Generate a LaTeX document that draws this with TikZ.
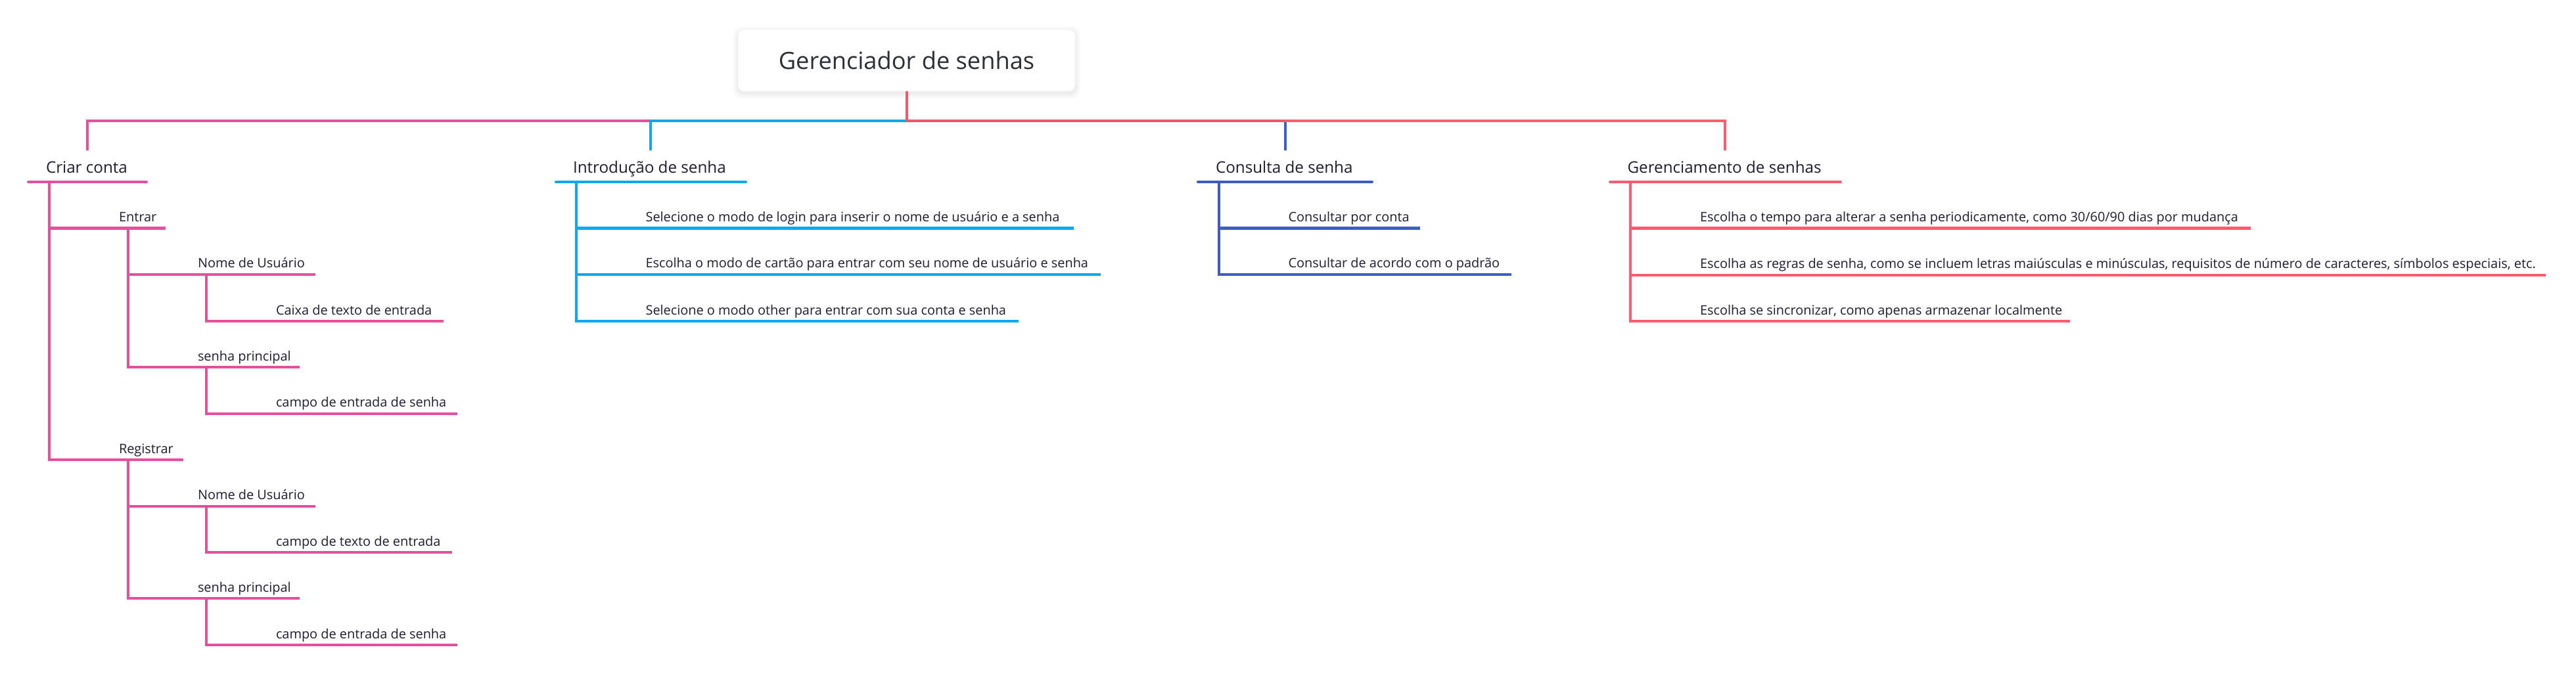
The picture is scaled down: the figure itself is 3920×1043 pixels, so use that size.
\documentclass[tikz,border=0pt]{standalone}
\usepackage{fontspec}
\setmainfont{Open Sans}
\definecolor{cpink}{HTML}{E4509B}
\definecolor{cblue}{HTML}{0EA8EE}
\definecolor{cdblue}{HTML}{3E5CC6}
\definecolor{cred}{HTML}{F2566B}
\definecolor{cred2}{HTML}{FF5B6F}
\definecolor{ctext}{HTML}{1D1D33}
\definecolor{croot}{HTML}{2B2F36}
\newcommand\leafnode[5]{% name, xtext, yline, xend, text
  \node[leaf] (#1) at (#2,#3-10) {#5};
  \coordinate (#1-e) at (#4,#3);}
\newcommand\topnode[6]{% name, xtext, yline, xstart, xend, text
  \node[lvone] (#1) at (#2,#3-13.5) {#6};
  \coordinate (#1-s) at (#4,#3);
  \coordinate (#1-e) at (#5,#3);}
\begin{document}
\begin{tikzpicture}[x=0.5pt,y=-0.5pt,line width=2pt,
  leaf/.style={anchor=base west,inner sep=0pt,font=\fontsize{9.95}{12}\selectfont,text=ctext},
  lvone/.style={anchor=base west,inner sep=0pt,font=\fontsize{12.1}{14}\selectfont,text=ctext},
  rootbox/.style={fill=white,draw=black!3,line width=0.5pt,rounded corners=5pt,
    minimum width=256.5pt,minimum height=47pt,inner sep=0pt,
    font=\fontsize{18.1}{21}\selectfont,text=croot},
  uline/.style={line cap=round}]
\useasboundingbox (0,0) rectangle (3920,1043);
\fill[white] (0,0) rectangle (3920,1043);

% root with soft shadow
\foreach \s/\o in {8/0.012,6/0.016,4/0.02,2/0.025}
  \fill[black,opacity=\o,rounded corners=6pt] (1123-\s,45-\s+3) rectangle (1636+\s,139+\s+3);
\node[rootbox] (root) at (1379.5,92) {Gerenciador de senhas};

% level one nodes
\topnode{criar}{68}{277}{43}{223}{Criar conta}
\topnode{intro}{870}{277}{846}{1135}{Introdução de senha}
\topnode{cons}{1848}{277}{1823}{2088}{Consulta de senha}
\topnode{ger}{2474.6}{277}{2450}{2801}{Gerenciamento de senhas}

\coordinate (bar) at (1379.5,184.5);
\coordinate (criar-top) at (132.5,229);
\coordinate (intro-top) at (990,229);
\coordinate (cons-top) at (1956,229);
\coordinate (ger-top) at (2625,229);

% root connectors
\draw[cpink] (root.south) |- (bar) -| (criar-top);
\draw[cblue] (bar) -| (intro-top);
\draw[cdblue] (cons-top) -- (cons-top |- bar);
\draw[cred2] (bar) -| (ger-top);
\draw[cred] (root.south) |- (cons-top |- bar);

\draw[cpink,uline] (criar-s) -- (criar-e);
\draw[cblue,uline] (intro-s) -- (intro-e);
\draw[cdblue,uline] (cons-s) -- (cons-e);
\draw[cred2,uline] (ger-s) -- (ger-e);

% Criar conta subtree
\coordinate (v1) at (75,277);
\leafnode{entrar}{179}{347.5}{252}{Entrar}
\leafnode{registrar}{179}{700}{279}{Registrar}
\coordinate (v2a) at (194.5,347.5);
\leafnode{nome1}{299}{418}{480}{Nome de Usuário}
\leafnode{senha1}{299}{559}{456}{senha principal}
\coordinate (v3a) at (314,418);
\leafnode{caixa}{418}{489}{675}{Caixa de texto de entrada}
\coordinate (v3b) at (314,559);
\leafnode{campo1}{418}{629.5}{696}{campo de entrada de senha}
\coordinate (v2b) at (194.5,700);
\leafnode{nome2}{299}{770.5}{480}{Nome de Usuário}
\leafnode{senha2}{299}{911}{456}{senha principal}
\coordinate (v3c) at (314,770.5);
\leafnode{campo2}{418}{841}{688}{campo de texto de entrada}
\coordinate (v3d) at (314,911);
\leafnode{campo3}{418}{982}{696}{campo de entrada de senha}

\begin{scope}[cpink]
\draw (v1) |- (entrar-e);
\draw (v1) |- (registrar-e);
\draw (v2a) |- (nome1-e);
\draw (v2a) |- (senha1-e);
\draw (v3a) |- (caixa-e);
\draw (v3b) |- (campo1-e);
\draw (v2b) |- (nome2-e);
\draw (v2b) |- (senha2-e);
\draw (v3c) |- (campo2-e);
\draw (v3d) |- (campo3-e);
\end{scope}

% Introdução subtree
\coordinate (vi) at (876.5,277);
\leafnode{i1}{980.6}{347.5}{1634}{Selecione o modo de login para inserir o nome de usuário e a senha}
\leafnode{i2}{980.6}{418}{1675}{Escolha o modo de cartão para entrar com seu nome de usuário e senha}
\leafnode{i3}{980.6}{489}{1550}{Selecione o modo other para entrar com sua conta e senha}
\begin{scope}[cblue]
\draw (vi) |- (i1-e);
\draw (vi) |- (i2-e);
\draw (vi) |- (i3-e);
\end{scope}

% Consulta subtree
\coordinate (vc) at (1854.5,277);
\leafnode{c1}{1958.5}{347.5}{2161}{Consultar por conta}
\leafnode{c2}{1958.5}{418}{2300}{Consultar de acordo com o padrão}
\begin{scope}[cdblue]
\draw (vc) |- (c1-e);
\draw (vc) |- (c2-e);
\end{scope}

% Gerenciamento subtree
\coordinate (vg) at (2480.5,277);
\leafnode{g1}{2585}{347.5}{3425}{Escolha o tempo para alterar a senha periodicamente, como 30/60/90 dias por mudança}
\leafnode{g2}{2585}{418.5}{3874}{Escolha as regras de senha, como se incluem letras maiúsculas e minúsculas, requisitos de número de caracteres, símbolos especiais, etc.}
\leafnode{g3}{2585}{489}{3150}{Escolha se sincronizar, como apenas armazenar localmente}
\begin{scope}[cred2]
\draw (vg) |- (g1-e);
\draw (vg) |- (g2-e);
\draw (vg) |- (g3-e);
\end{scope}
\end{tikzpicture}
\end{document}
